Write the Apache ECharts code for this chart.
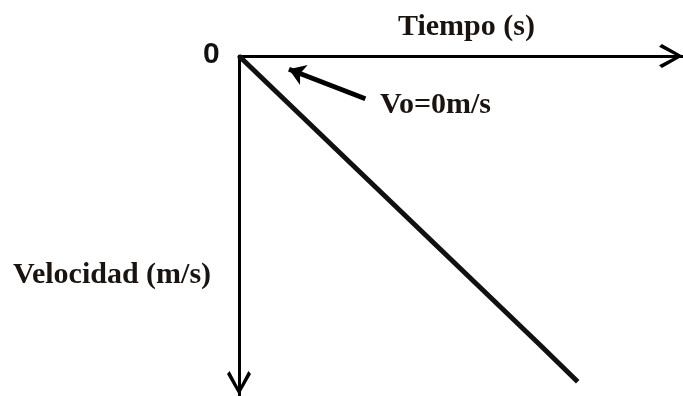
<!DOCTYPE html>
<html>
<head>
<meta charset="utf-8">
<script src="https://cdn.jsdelivr.net/npm/echarts@6/dist/echarts.min.js"></script>
<style>
  html, body { margin: 0; padding: 0; background: #fff; }
  #chart { width: 683px; height: 396px; }
</style>
</head>
<body>
<div id="chart"></div>
<script>
// datos de la recta v(t)
const tiempo = [0, 1, 2, 3, 4, 5, 5.63]
const velocidad = [0, 1, 2, 3, 4, 5, 5.64]

// flecha que seГұala Vo (cola -> punta)
const flechaT = [2.1, 0.83]
const flechaV = [0.74, 0.23]

const ejeXMax = 7.38
const ejeYMax = 5.87

// punta en V abierta para los ejes
const chevron = 'path://M5,0 L10,8.8 L8.9,10 L5,2.6 L1.1,10 L0,8.8 Z'

const chart = echarts.init(document.getElementById('chart'))

const serif = '"Liberation Serif", "DejaVu Serif", serif'

chart.setOption({
  animation: false,
  grid: { left: 239, top: 56, right: 0, bottom: 1 },
  xAxis: {
    type: 'value',
    position: 'top',
    min: 0,
    max: ejeXMax,
    axisLine: {
      show: true,
      symbol: ['none', chevron],
      symbolSize: [26, 24],
      symbolOffset: [0, -12],
      lineStyle: { color: '#000', width: 3 }
    },
    axisTick: { show: false },
    axisLabel: { show: false },
    splitLine: { show: false }
  },
  yAxis: {
    type: 'value',
    inverse: true,
    min: 0,
    max: ejeYMax,
    axisLine: {
      show: true,
      symbol: [chevron, 'none'],
      symbolSize: [26, 24],
      symbolOffset: [12, 0],
      lineStyle: { color: '#000', width: 3 }
    },
    axisTick: { show: false },
    axisLabel: { show: false },
    splitLine: { show: false }
  },
  series: [
    {
      type: 'line',
      data: tiempo.map((t, i) => [t, velocidad[i]]),
      showSymbol: false,
      lineStyle: { color: '#111', width: 5 },
      markLine: {
        silent: true,
        symbol: ['none', 'arrow'],
        symbolSize: [16, 16],
        label: { show: false },
        lineStyle: { color: '#000', width: 5, type: 'solid' },
        data: [[
          { coord: [flechaT[0], flechaV[0]] },
          { coord: [flechaT[1], flechaV[1]] }
        ]]
      }
    }
  ],
  graphic: [
    {
      type: 'text', left: 203, top: 40,
      style: { text: '0', font: 'bold 30px "Liberation Sans", sans-serif', fill: '#111' }
    },
    {
      type: 'text', left: 398, top: 12,
      style: { text: 'Tiempo (s)', font: 'bold 30px ' + serif, fill: '#1a1410' }
    },
    {
      type: 'text', left: 380, top: 90,
      style: { text: 'Vo=0m/s', font: 'bold 30px ' + serif, fill: '#1a1410' }
    },
    {
      type: 'text', left: 13, top: 260,
      style: { text: 'Velocidad (m/s)', font: 'bold 30px ' + serif, fill: '#1a1410' }
    }
  ]
})
</script>
</body>
</html>
